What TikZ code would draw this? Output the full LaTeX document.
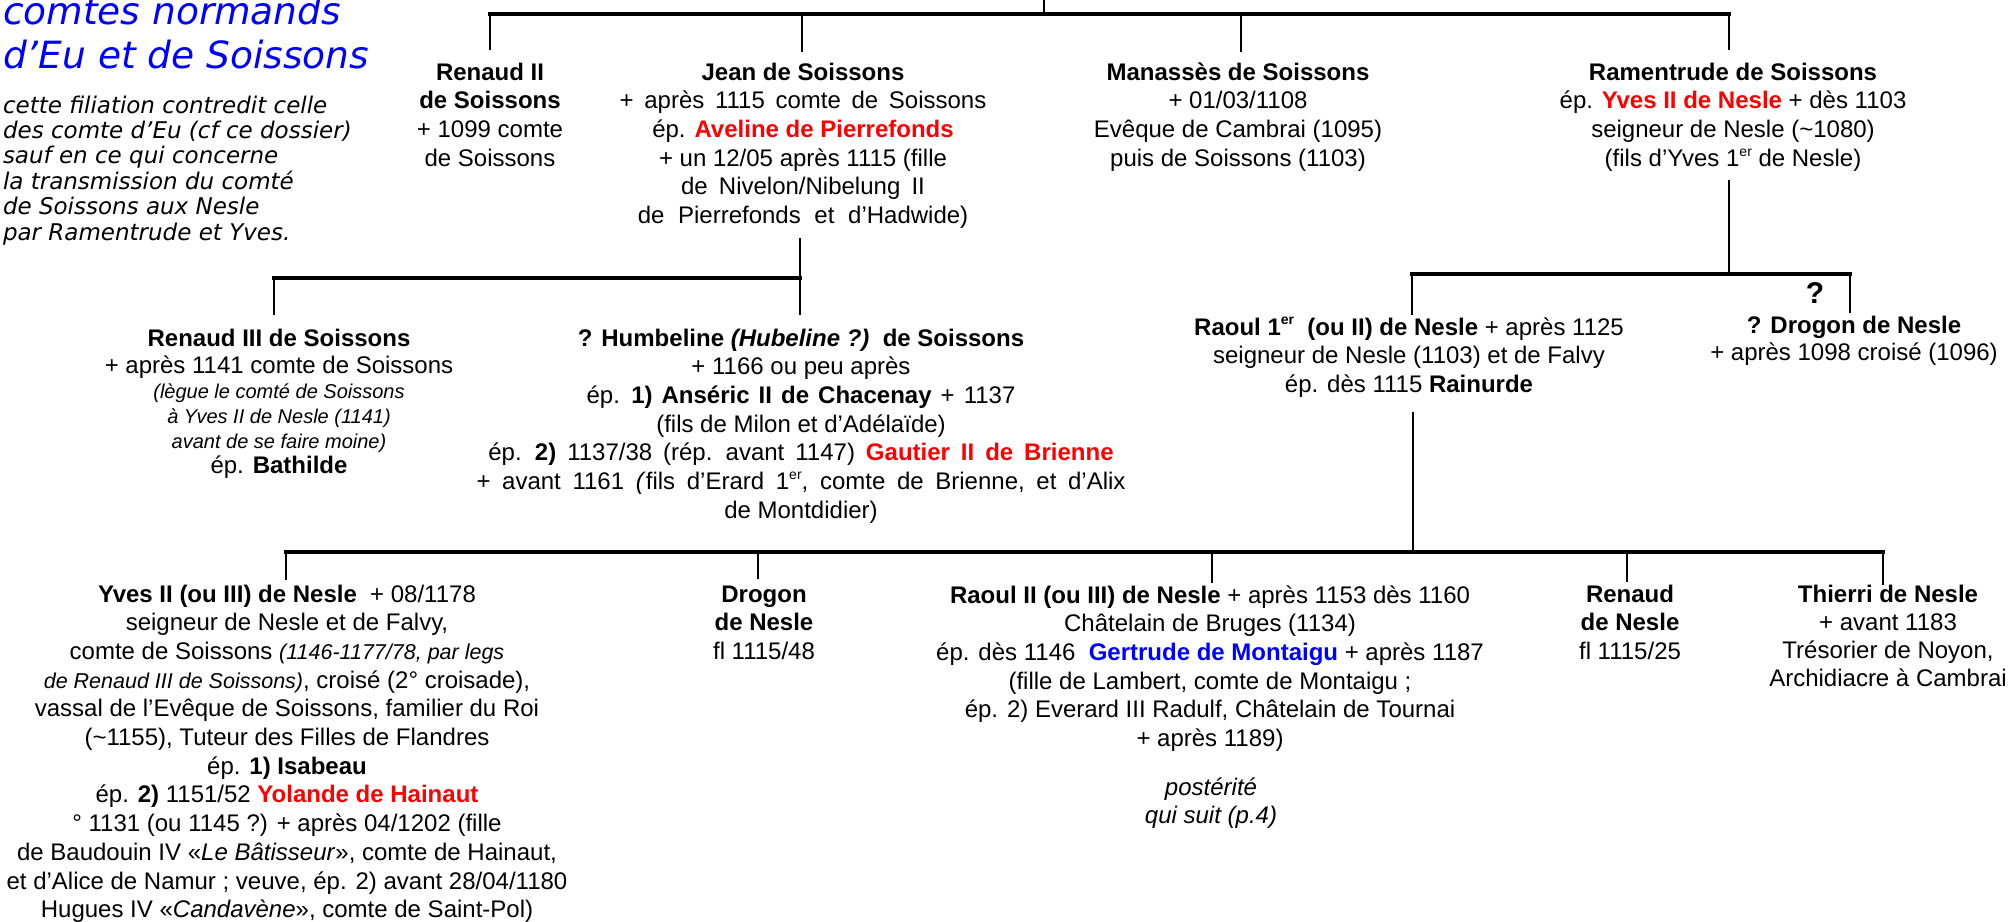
\documentclass[tikz,border=0pt]{standalone}
\usepackage{fontspec}
\setmainfont{Liberation Sans}
\newfontfamily\verdit{DejaVu Sans Oblique}
\definecolor{rouge}{RGB}{255,0,0}
\definecolor{bleu}{RGB}{0,0,255}
\newcommand\sups[1]{\raisebox{0.42em}{\fontsize{14}{14}\selectfont #1}}
\newcommand\rd[1]{\textcolor{rouge}{\textbf{#1}}}
\newcommand\bl[1]{\textcolor{bleu}{\textbf{#1}}}
\newcommand\pers[1]{\begin{tabular}[t]{@{}c@{}}#1\end{tabular}}
\newcommand\smit[1]{{\fontsize{20}{25}\selectfont\itshape #1}}
\newcommand\mdit[1]{{\fontsize{21.5}{25}\selectfont\itshape #1}}
\newcommand\ws[2]{{\spaceskip=\dimexpr\fontdimen2\font+#1\relax #2}}
\begin{document}
\begin{tikzpicture}[x=1pt,y=-1pt,
  every node/.style={inner sep=0pt, outer sep=0pt, anchor=base, font=\fontsize{24}{28.7}\selectfont},
  bar/.style={line width=3.1pt, line cap=rect},
  stem/.style={line width=2pt}]
\useasboundingbox (0,0) rectangle (2015,921);

% ---------- title and note ----------
\node[anchor=base west, font={\verdit\fontsize{37.5}{44}\selectfont}, text=bleu] (title) at (3,24)
  {\begin{tabular}[t]{@{}l@{}}comtes normands\\ d’Eu et de Soissons\end{tabular}};
\node[anchor=base west, font={\verdit\fontsize{23}{25.3}\selectfont}] (note) at (3,113)
  {\begin{tabular}[t]{@{}l@{}}cette filiation contredit celle\\ des comte d’Eu (cf ce dossier)\\ sauf en ce qui concerne\\ la transmission du comté\\ de Soissons aux Nesle\\ par Ramentrude et Yves.\end{tabular}};

% ---------- level 1 ----------
\node (renaud2s) at (490,80) {\pers{\textbf{Renaud II}\\ \textbf{de Soissons}\\ + 1099 comte\\ de Soissons}};
\node (jean) at (803,80) {\pers{\textbf{Jean de Soissons}\\ \ws{4pt}{+ après 1115 comte de Soissons}\\ ép. \rd{Aveline de Pierrefonds}\\ + un 12/05 après 1115 (fille\\ \ws{4.5pt}{de Nivelon/Nibelung II}\\ \ws{7pt}{de Pierrefonds et d’Hadwide)}}};
\node (manasses) at (1238,80) {\pers{\textbf{Manassès de Soissons}\\ + 01/03/1108\\ Evêque de Cambrai (1095)\\ puis de Soissons (1103)}};
\node (ramentrude) at (1733,80) {\pers{\textbf{Ramentrude de Soissons}\\ ép. \rd{Yves II de Nesle} + dès 1103\\ seigneur de Nesle (\textasciitilde1080)\\ (fils d’Yves 1\sups{er} de Nesle)}};

% ---------- level 2 ----------
\node (renaud3) at (279,346) {\pers{\textbf{Renaud III de Soissons}\\[-1.7pt] + après 1141 comte de Soissons\\[-3.7pt] \smit{(lègue le comté de Soissons}\\[-3.7pt] \smit{à Yves II de Nesle (1141)}\\[-3.7pt] \smit{avant de se faire moine)}\\[-3.7pt] ép. \textbf{Bathilde}}};
\node (humbeline) at (801,346) {\pers{\textbf{? Humbeline \textit{(Hubeline ?)}\ \ de Soissons}\\ + 1166 ou peu après\\ \ws{2.4pt}{ép. \textbf{1) Anséric II de Chacenay} + 1137}\\ (fils de Milon et d’Adélaïde)\\ \ws{4.3pt}{ép. \textbf{2)} 1137/38 (rép. avant 1147) \rd{Gautier II de Brienne}}\\ \ws{5pt}{+ avant 1161 \textit{(}fils d’Erard 1\sups{er}, comte de Brienne, et d’Alix}\\ de Montdidier)}};
\node (raoul1) at (1409,335) {\pers{\textbf{Raoul 1\sups{er}\ \ (ou II) de Nesle} + après 1125\\ seigneur de Nesle (1103) et de Falvy\\ ép. dès 1115 \textbf{Rainurde}}};
\node[font=\fontsize{30}{30}\selectfont\bfseries] (qmark) at (1815,303) {?};
\node (drogon1) at (1854,333) {\pers{\textbf{? Drogon de Nesle}\\[-1.2pt] + après 1098 croisé (1096)}};

% ---------- level 3 ----------
\node (yves) at (287,602) {\pers{\textbf{Yves II (ou III) de Nesle}\ \ + 08/1178\\ seigneur de Nesle et de Falvy,\\ comte de Soissons \mdit{(1146-1177/78, par legs}\\ \mdit{de Renaud III de Soissons)}, croisé (2° croisade),\\ vassal de l’Evêque de Soissons, familier du Roi\\ (\textasciitilde1155), Tuteur des Filles de Flandres\\ ép. \textbf{1) Isabeau}\\ ép. \textbf{2)} 1151/52 \rd{Yolande de Hainaut}\\ ° 1131 (ou 1145 ?) + après 04/1202 (fille\\ de Baudouin IV «\textit{Le Bâtisseur}», comte de Hainaut,\\ et d’Alice de Namur ; veuve, ép. 2) avant 28/04/1180\\ Hugues IV «\textit{Candavène}», comte de Saint-Pol)}};
\node (drogon2) at (764,602) {\pers{\textbf{Drogon}\\ \textbf{de Nesle}\\ fl 1115/48}};
\node (raoul2) at (1210,603) {\pers{\textbf{Raoul II (ou III) de Nesle} + après 1153 dès 1160\\ Châtelain de Bruges (1134)\\ ép. dès 1146\ \ \bl{Gertrude de Montaigu} + après 1187\\ (fille de Lambert, comte de Montaigu ;\\ ép. 2) Everard III Radulf, Châtelain de Tournai\\ + après 1189)}};
\node (post) at (1211,795) {\pers{\itshape postérité\\[-0.7pt] \itshape qui suit (p.4)}};
\node (renaudN) at (1630,602) {\pers{\textbf{Renaud}\\ \textbf{de Nesle}\\ fl 1115/25}};
\node (thierri) at (1888,602) {\pers{\textbf{Thierri de Nesle}\\[-0.7pt] + avant 1183\\[-0.7pt] Trésorier de Noyon,\\[-0.7pt] Archidiacre à Cambrai}};

% ---------- connector points ----------
\coordinate (top-in) at (1044,-3);
\coordinate (b1L) at (490,14);  \coordinate (b1R) at (1729,14);
\coordinate (renaud2s-in) at (490,50);
\coordinate (jean-in) at (802,52);
\coordinate (manasses-in) at (1241,52);
\coordinate (ramentrude-in) at (1729,50);

\coordinate (jean-out) at (800,238);
\coordinate (b2L) at (274,278); \coordinate (b2R) at (800,278);
\coordinate (renaud3-in) at (274,315);
\coordinate (humbeline-in) at (800,315);

\coordinate (ramentrude-out) at (1729,180);
\coordinate (b3L) at (1412,274); \coordinate (b3R) at (1850,274);
\coordinate (raoul1-in) at (1412,315);
\coordinate (drogon1-in) at (1850,313);

\coordinate (raoul1-out) at (1413,412);
\coordinate (b4L) at (286,552); \coordinate (b4R) at (1883,552);
\coordinate (yves-in) at (286,580);
\coordinate (drogon2-in) at (758,579);
\coordinate (raoul2-in) at (1212,583);
\coordinate (renaudN-in) at (1627,582);
\coordinate (thierri-in) at (1883,585);

% ---------- connectors ----------
\draw[bar] (b1L) -- (b1R);
\draw[stem] (top-in) -- (top-in |- b1L);
\foreach \c in {renaud2s-in, jean-in, manasses-in, ramentrude-in}
  \draw[stem] (\c) -- (\c |- b1L);

\draw[bar] (b2L) -- (b2R);
\draw[stem] (jean-out) -- (humbeline-in);
\draw[stem] (renaud3-in) -- (renaud3-in |- b2L);

\draw[bar] (b3L) -- (b3R);
\draw[stem] (ramentrude-out) -- (ramentrude-out |- b3L);
\foreach \c in {raoul1-in, drogon1-in}
  \draw[stem] (\c) -- (\c |- b3L);

\draw[bar] (b4L) -- (b4R);
\draw[stem] (raoul1-out) -- (raoul1-out |- b4L);
\foreach \c in {yves-in, drogon2-in, raoul2-in, renaudN-in, thierri-in}
  \draw[stem] (\c) -- (\c |- b4L);
\end{tikzpicture}
\end{document}
